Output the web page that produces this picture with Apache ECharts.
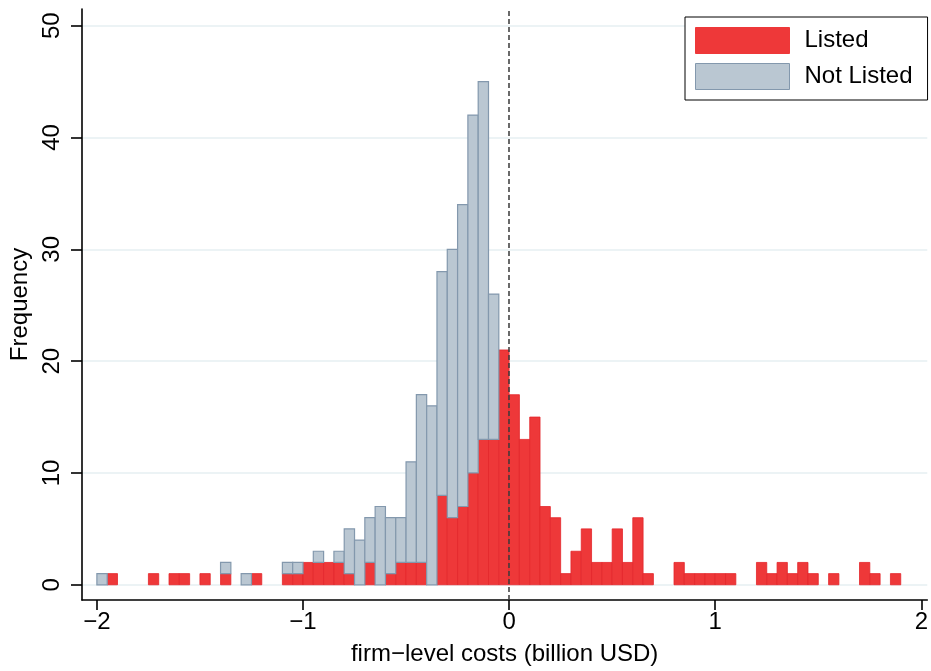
<!DOCTYPE html>
<html>
<head>
<meta charset="utf-8">
<script src="https://cdn.jsdelivr.net/npm/echarts@6/dist/echarts.min.js"></script>
<style>
  html, body { margin: 0; padding: 0; background: #fff; }
  #chart { width: 931px; height: 671px; }
</style>
</head>
<body>
<div id="chart"></div>
<script>
// histogram bins: 80 bins of 0.05 from -2 to 2
var binStart = -2;
var binWidth = 0.05;
// Listed firms per bin (red, bottom)
var listed = [
  0, 1, 0, 0, 0, 1, 0, 1, 1, 0,
  1, 0, 1, 0, 0, 1, 0, 0, 1, 1,
  2, 2, 2, 2, 1, 0, 2, 0, 1, 2,
  2, 2, 0, 8, 6, 7, 10, 13, 13, 21,
  17, 13, 15, 7, 6, 1, 3, 5, 2, 2,
  5, 2, 6, 1, 0, 0, 2, 1, 1, 1,
  1, 1, 0, 0, 2, 1, 2, 1, 2, 1,
  0, 1, 0, 0, 2, 1, 0, 1, 0, 0
];
// Not listed firms per bin (grey, stacked on top)
var notListed = [
  1, 0, 0, 0, 0, 0, 0, 0, 0, 0,
  0, 0, 1, 0, 1, 0, 0, 0, 1, 1,
  0, 1, 0, 1, 4, 4, 4, 7, 5, 4,
  9, 15, 16, 20, 24, 27, 32, 32, 13, 0,
  0, 0, 0, 0, 0, 0, 0, 0, 0, 0,
  0, 0, 0, 0, 0, 0, 0, 0, 0, 0,
  0, 0, 0, 0, 0, 0, 0, 0, 0, 0,
  0, 0, 0, 0, 0, 0, 0, 0, 0, 0
];
var xTicks = [-2, -1, 0, 1, 2];
var yTicks = [0, 10, 20, 30, 40, 50];

var listedRows = [], notListedRows = [];
for (var i = 0; i < listed.length; i++) {
  var x0 = binStart + i * binWidth, x1 = x0 + binWidth;
  listedRows.push([x0, x1, 0, listed[i]]);
  notListedRows.push([x0, x1, listed[i], listed[i] + notListed[i]]);
}

function renderBin(params, api) {
  var lo = api.value(2), hi = api.value(3);
  if (hi <= lo) return null;
  var p0 = api.coord([api.value(0), lo]);
  var p1 = api.coord([api.value(1), hi]);
  return {
    type: 'rect',
    shape: { x: p0[0], y: p1[1], width: p1[0] - p0[0], height: p0[1] - p1[1] },
    style: api.style()
  };
}

var FONT = '"Liberation Sans", Arial, Helvetica, sans-serif';
var chart = echarts.init(document.getElementById('chart'), null, { renderer: 'canvas' });

chart.setOption({
  animation: false,
  backgroundColor: '#fff',
  textStyle: { fontFamily: FONT, color: '#000' },
  grid: { left: 79, right: 0, top: 9, bottom: 69 },
  legend: {
    orient: 'vertical',
    left: 685,
    top: 17,
    padding: [10, 15, 10, 10],
    itemGap: 9,
    itemWidth: 94,
    itemHeight: 26,
    borderColor: '#000',
    borderWidth: 1,
    backgroundColor: '#fff',
    textStyle: { fontFamily: FONT, fontSize: 24, color: '#000', padding: [4, 0, 0, 10] },
    data: [
      { name: 'Listed', icon: 'rect', itemStyle: { color: '#ee3839', borderColor: '#ee3839', borderWidth: 1 } },
      { name: 'Not Listed', icon: 'rect', itemStyle: { color: '#bac7d2', borderColor: '#8398ad', borderWidth: 1 } }
    ]
  },
  xAxis: {
    type: 'value',
    min: -2.0722,
    max: 2.0289,
    name: 'firm\u2212level costs (billion USD)',
    nameLocation: 'middle',
    nameGap: 42,
    nameTextStyle: { fontFamily: FONT, fontSize: 24, color: '#000' },
    axisLine: { show: true, onZero: false, lineStyle: { color: '#000', width: 1.6 } },
    axisTick: { show: true, length: 10, customValues: xTicks, lineStyle: { color: '#000', width: 1.6 } },
    axisLabel: {
      customValues: xTicks,
      fontFamily: FONT, fontSize: 24, color: '#000', margin: 10,
      formatter: function (v) { return v < 0 ? '\u2212' + Math.abs(v) : String(v); }
    },
    splitLine: { show: false }
  },
  yAxis: {
    type: 'value',
    min: -1.36,
    max: 51.49,
    name: 'Frequency',
    nameLocation: 'middle',
    nameGap: 50,
    nameRotate: 90,
    nameTextStyle: { fontFamily: FONT, fontSize: 24, color: '#000' },
    axisLine: { show: true, onZero: false, lineStyle: { color: '#000', width: 1.6 } },
    axisTick: { show: true, length: 11, customValues: yTicks, lineStyle: { color: '#000', width: 1.6 } },
    axisLabel: { customValues: yTicks, rotate: 90, fontFamily: FONT, fontSize: 24, color: '#000', margin: 18 },
    splitLine: { show: true, lineStyle: { color: '#e6eff2', width: 1.5 } }
  },
  series: [
    {
      name: 'Listed',
      type: 'custom',
      renderItem: renderBin,
      encode: { x: [0, 1], y: [2, 3] },
      itemStyle: { color: '#ee3839', borderColor: '#e3262b', borderWidth: 0.8 },
      data: listedRows,
      z: 2
    },
    {
      name: 'Not Listed',
      type: 'custom',
      renderItem: renderBin,
      encode: { x: [0, 1], y: [2, 3] },
      itemStyle: { color: '#bac7d2', borderColor: '#8398ad', borderWidth: 1.2 },
      data: notListedRows,
      z: 2,
      markLine: {
        silent: true,
        symbol: 'none',
        label: { show: false },
        lineStyle: { color: '#3c3c3c', type: [5, 3], width: 1.8, opacity: 0.85 },
        data: [{ xAxis: 0 }],
        z: 5
      }
    }
  ]
});
</script>
</body>
</html>
